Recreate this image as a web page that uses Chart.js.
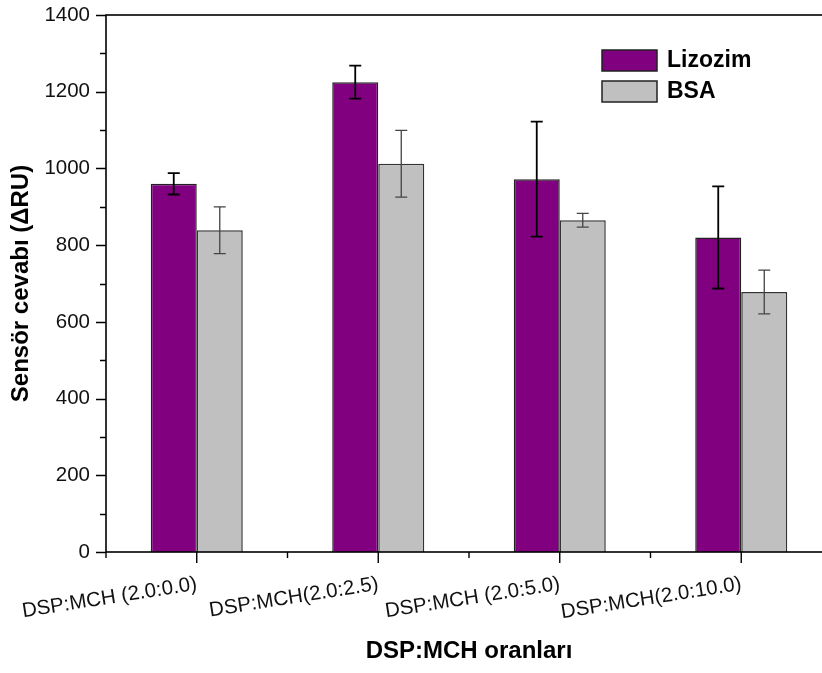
<!DOCTYPE html>
<html>
<head>
<meta charset="utf-8">
<script src="https://cdn.jsdelivr.net/npm/chart.js@4.4.1/dist/chart.umd.min.js"></script>
<style>
  html, body { margin: 0; padding: 0; background: #fff; overflow: hidden; }
  #wrap { width: 840px; height: 673px; }
</style>
</head>
<body>
<div id="wrap"><canvas id="chart" width="840" height="673"></canvas></div>
<script>
// data
const categories = ["DSP:MCH (2.0:0.0)", "DSP:MCH(2.0:2.5)", "DSP:MCH (2.0:5.0)", "DSP:MCH(2.0:10.0)"];
const lizozim = [960, 1225, 972, 820];
const lizozimErr = [28, 43, 150, 133];
const bsa = [839, 1012, 865, 678];
const bsaErr = [61, 87, 18, 57];
const yTicks = [0, 200, 400, 600, 800, 1000, 1200, 1400];

const FONT = "'Liberation Sans', Arial, sans-serif";

// error bars, drawn from the bar elements and the y scale
const errorBars = {
  id: "errorBars",
  afterDatasetsDraw(chart) {
    const ctx = chart.ctx;
    const y = chart.scales.y;
    chart.data.datasets.forEach((ds, di) => {
      const meta = chart.getDatasetMeta(di);
      meta.data.forEach((bar, i) => {
        const v = ds.data[i], e = ds.errors[i];
        const top = y.getPixelForValue(v + e);
        const bot = y.getPixelForValue(v - e);
        ctx.save();
        ctx.strokeStyle = ds.errColor;
        ctx.lineWidth = ds.errWidth;
        ctx.beginPath();
        ctx.moveTo(bar.x, top); ctx.lineTo(bar.x, bot);
        ctx.moveTo(bar.x - 6, top); ctx.lineTo(bar.x + 6, top);
        ctx.moveTo(bar.x - 6, bot); ctx.lineTo(bar.x + 6, bot);
        ctx.stroke();
        ctx.restore();
      });
    });
  }
};

// frame and tick marks (major + minor)
const frame = {
  id: "frame",
  afterDraw(chart) {
    const ctx = chart.ctx;
    const a = chart.chartArea;
    const x = chart.scales.x, y = chart.scales.y;
    ctx.save();
    ctx.strokeStyle = "#000";
    ctx.lineWidth = 1.6;
    ctx.strokeRect(a.left, a.top, a.right - a.left, a.bottom - a.top);
    ctx.lineWidth = 1.4;
    ctx.beginPath();
    for (let v = 0; v <= 1400; v += 100) {
      const py = Math.round(y.getPixelForValue(v)) + 0.5;
      const len = v % 200 === 0 ? 10 : 6;
      ctx.moveTo(a.left - len, py); ctx.lineTo(a.left, py);
    }
    categories.forEach((c, i) => {
      const px = x.getPixelForValue(i);
      ctx.moveTo(px, a.bottom); ctx.lineTo(px, a.bottom + 11);
      const bx = x.getPixelForValue(i - 0.5);
      ctx.moveTo(bx, a.bottom); ctx.lineTo(bx, a.bottom + 6);
    });
    ctx.stroke();
    ctx.restore();
  }
};

// legend placed inside the plot, as in the reference
const insideLegend = {
  id: "insideLegend",
  afterDraw(chart) {
    const ctx = chart.ctx;
    const a = chart.chartArea;
    const bx = a.left + 496, by = a.top + 35;
    chart.data.datasets.forEach((ds, i) => {
      const top = by + i * 31;
      ctx.save();
      ctx.fillStyle = ds.backgroundColor;
      ctx.fillRect(bx, top, 55, 21);
      ctx.strokeStyle = "#222";
      ctx.lineWidth = 1.5;
      ctx.strokeRect(bx, top, 55, 21);
      ctx.fillStyle = "#000";
      ctx.font = "bold 23px " + FONT;
      ctx.textBaseline = "middle";
      ctx.fillText(ds.label, bx + 65, top + 11);
      ctx.restore();
    });
  }
};

const ctx = document.getElementById("chart").getContext("2d");
new Chart(ctx, {
  type: "bar",
  data: {
    labels: categories,
    datasets: [
      {
        label: "Lizozim",
        data: lizozim,
        errors: lizozimErr,
        errColor: "#000",
        errWidth: 1.8,
        backgroundColor: "#800080",
        borderColor: "#222",
        borderWidth: 1.5,
      },
      {
        label: "BSA",
        data: bsa,
        errors: bsaErr,
        errColor: "#444",
        errWidth: 1.3,
        backgroundColor: "#c0c0c0",
        borderColor: "#333",
        borderWidth: 1.5,
      },
    ],
  },
  options: {
    responsive: false,
    animation: false,
    layout: { padding: { top: 15, right: 8, left: 0, bottom: 0 } },
    datasets: { bar: { categoryPercentage: 0.507, barPercentage: 1.0 } },
    plugins: {
      legend: { display: false },
      tooltip: { enabled: false },
    },
    scales: {
      x: {
        grid: { display: false, drawTicks: false },
        border: { display: false },
        afterFit: (s) => { s.height = 121; s.paddingLeft = 0; s.paddingRight = 0; },
        ticks: {
          autoSkip: false,
          minRotation: 9,
          maxRotation: 9,
          padding: 20,
          color: "#111",
          font: { family: FONT, size: 20.5 },
        },
        title: {
          display: true,
          text: "DSP:MCH oranları",
          color: "#000",
          padding: { top: 0, bottom: 7 },
          font: { family: FONT, size: 24, weight: "bold" },
        },
      },
      y: {
        min: 0,
        max: 1400,
        afterFit: (s) => { s.width = 106; s.paddingTop = 0; s.paddingBottom = 0; },
        afterBuildTicks: (s) => { s.ticks = yTicks.map((v) => ({ value: v })); },
        grid: { display: false, drawTicks: false },
        border: { display: false },
        ticks: {
          padding: 16,
          color: "#111",
          font: { family: FONT, size: 20.5 },
          callback: (v) => String(v),
        },
        title: {
          display: true,
          text: "Sensör cevabı (ΔRU)",
          color: "#000",
          padding: { top: 7, bottom: 0 },
          font: { family: FONT, size: 24, weight: "bold" },
        },
      },
    },
  },
  plugins: [errorBars, frame, insideLegend],
});
</script>
</body>
</html>
